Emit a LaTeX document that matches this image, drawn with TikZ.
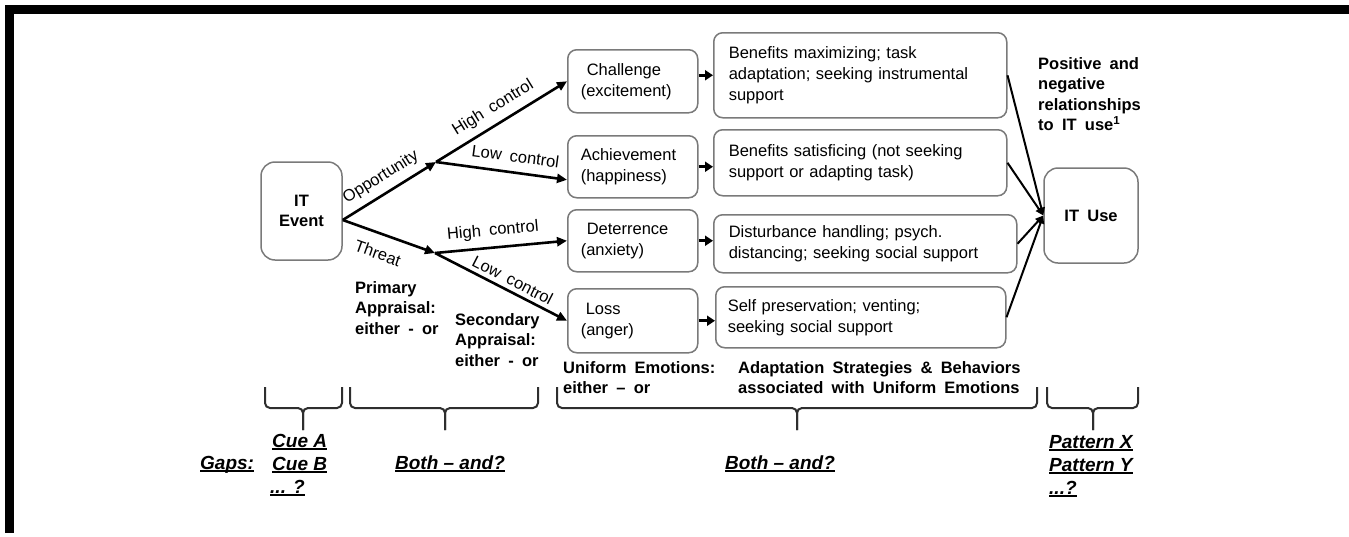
\documentclass[tikz,border=0pt]{standalone}
\usepackage{fontspec}
\setmainfont[WordSpace=1.8]{Liberation Sans}
\newfontfamily\gapfam{Liberation Sans}
\usetikzlibrary{arrows.meta}
\definecolor{boxgray}{HTML}{7A7A7A}
\definecolor{bracegray}{HTML}{2E2E2E}
\newcommand\txtreg{\fontsize{16.5}{21}\selectfont}
\newcommand\txtbold{\fontsize{16.5}{20.5}\selectfont\bfseries}
\newcommand\txtgap{\gapfam\fontsize{19}{21}\selectfont\bfseries\itshape}
% underline at a fixed depth below the baseline
\newcommand\gapline[1]{\setbox0\hbox{#1}\leavevmode\rlap{\rule[-3pt]{\wd0}{1.8pt}}\box0}
% downward bracket: left x, right x, tip x
\newcommand\gapbrace[3]{%
  \draw[bracket] (#1,387) -- (#1,408) -- (#3,408) -- (#3,430);
  \draw[bracket] (#2,387) -- (#2,408) -- (#3,408) -- (#3,430);}
\begin{document}
\begin{tikzpicture}[x=1pt,y=-1pt,
  box/.style={draw=boxgray, line width=1.5pt, rounded corners=9pt, inner ysep=0pt},
  ebox/.style={box, anchor=north west, minimum width=130pt, text width=104pt, inner xsep=13pt, align=left, font=\txtreg},
  sbox/.style={box, anchor=north west, inner xsep=15pt, align=left, font=\txtreg},
  itbox/.style={box, rounded corners=14pt, align=center, font=\txtbold},
  branch/.style={line width=2.6pt, -{Triangle[length=10pt,width=9pt]}},
  link/.style={line width=2.6pt, -{Triangle[length=8pt,width=10pt]}},
  feed/.style={line width=2pt, -{Triangle[length=8pt,width=7pt]}},
  lbl/.style={font=\txtreg, sloped, inner xsep=0pt},
  note/.style={font=\txtbold, align=left, anchor=north west, inner sep=0pt},
  gap/.style={font=\txtgap, inner sep=0pt},
  bracket/.style={draw=bracegray, line width=2pt, rounded corners=5pt},
]
\useasboundingbox (0,0) rectangle (1349,536);
% frame bars
\fill (5,5) rectangle (1349,14);
\fill (5,5) rectangle (14,533);

% event and outcome
\node[itbox, minimum width=81pt, minimum height=98pt] (ev) at (301.5,211) {IT\\Event};
\node[itbox, minimum width=94pt, minimum height=95pt] (use) at (1091,215.5) {IT Use};

% uniform emotions
\node[ebox, minimum height=63pt] (ch) at (567,49) {\hspace*{6pt}Challenge\\(excitement)};
\node[ebox, minimum height=62pt] (ach) at (567,135) {Achievement\\(happiness)};
\node[ebox, minimum height=62pt] (det) at (567,209) {\hspace*{6pt}Deterrence\\(anxiety)};
\node[ebox, minimum height=64pt] (loss) at (567,288) {\hspace*{5pt}Loss\\(anger)};

% adaptation strategies
\node[sbox, text width=263pt, minimum height=85pt] (s1) at (713,32) {Benefits maximizing; task\\adaptation; seeking instrumental\\support};
\node[sbox, text width=263pt, minimum height=66pt] (s2) at (713,129) {Benefits satisficing (not seeking\\support or adapting task)};
\node[sbox, text width=273pt, minimum height=58pt] (s3) at (713,214) {Disturbance handling; psych.\\distancing; seeking social support};
\node[sbox, text width=266pt, inner xsep=12pt, minimum height=61pt] (s4) at (715,286) {Self preservation; venting;\\seeking social support};

% appraisal branches
\coordinate (o) at ([yshift=-9pt]ev.east);
\coordinate (op) at (436,162);
\coordinate (th) at (435,253);
\draw[branch] (o) -- node[lbl, above, inner ysep=7pt, pos=0.5] {Opportunity} (op);
\draw[branch] (o) -- node[lbl, below, inner ysep=12pt, pos=0.45] {Threat} (th);
\draw[branch] (op) -- node[lbl, above, inner ysep=7pt, pos=0.5] {High control} (ch.west);
\draw[branch] (op) -- node[lbl, above, inner ysep=9pt, pos=0.59] {Low control} ([yshift=-13pt]ach.west);
\draw[branch] (th) -- node[lbl, above, inner ysep=7.5pt, pos=0.45] {High control} (det.west);
\draw[branch] (th) -- node[lbl, above, inner ysep=4pt, pos=0.55] {Low control} (loss.west);

% emotions to strategies
\draw[link] (s1.west -| ch.east) -- (s1.west);
\draw[link] (ach.east) -- (ach.east -| s2.west);
\draw[link] (det.east) -- (det.east -| s3.west);
\draw[link] (loss.east) -- (loss.east -| s4.west);

% strategies to IT use
\draw[feed] (s1.east) -- (use.west);
\draw[feed] (s2.east) -- (use.west);
\draw[feed] (s3.east) -- (use.west);
\draw[feed] (s4.east) -- (use.west);

% stage captions
\node[note] (pa) at (355,281) {Primary\\Appraisal:\\either - or};
\node[note] (sa) at (455,313) {Secondary\\Appraisal:\\either - or};
\node[note] (ue) at (563,361) {Uniform Emotions:\\either – or};
\node[note] (as) at (738,361) {Adaptation Strategies \& Behaviors\\associated with Uniform Emotions};
\node[note] (pr) at (1038,57) {Positive and\\negative\\relationships\\to IT use\textsuperscript{1}};

% brackets over the gaps
\gapbrace{265}{342}{303}
\gapbrace{350}{538}{445}
\gapbrace{557}{1037}{797}
\gapbrace{1047}{1138}{1093}

% gaps
\node[gap, anchor=base west] (gl) at (200,469) {\gapline{Gaps:}};
\node[gap, anchor=base west] (ca) at (272,447) {\gapline{Cue A}};
\node[gap, anchor=base west] (cb) at (272,470) {\gapline{Cue B}};
\node[gap, anchor=base west] (cq) at (270,493) {\gapline{... ?}};
\node[gap, anchor=base] (ba1) at (450,469) {\gapline{Both – and?}};
\node[gap, anchor=base] (ba2) at (780,469) {\gapline{Both – and?}};
\node[gap, anchor=base west] (px) at (1049,448) {\gapline{Pattern X}};
\node[gap, anchor=base west] (py) at (1049,471) {\gapline{Pattern Y}};
\node[gap, anchor=base west] (pq) at (1049,494) {\gapline{...?}};
\end{tikzpicture}
\end{document}
